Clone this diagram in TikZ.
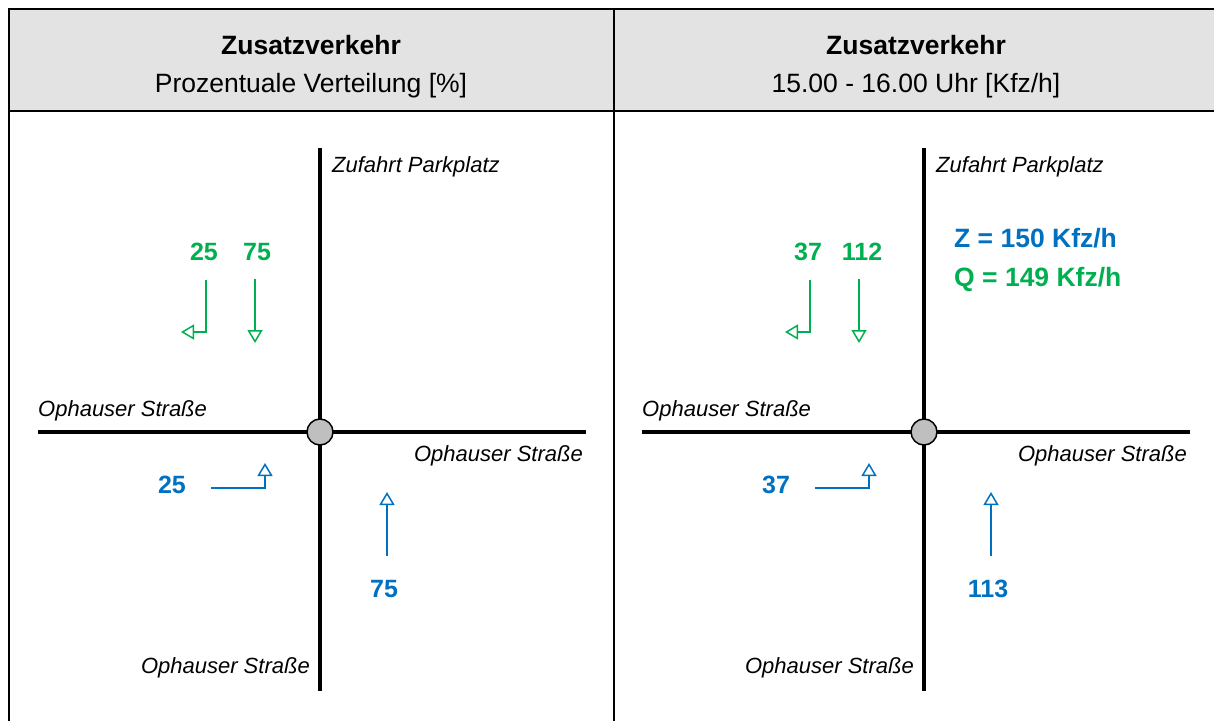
\documentclass[tikz,border=0pt]{standalone}
\usepackage{fontspec}
\setmainfont{Liberation Sans}
\usetikzlibrary{arrows.meta}
\definecolor{hdrgray}{HTML}{E3E3E3}
\definecolor{knotgray}{HTML}{BFBFBF}
\definecolor{flowgreen}{HTML}{00B050}
\definecolor{flowblue}{HTML}{0070C0}
\tikzset{
  frame/.style={line width=2pt, black},
  road/.style={line width=3.5pt, black},
  knot/.style={circle, draw=black, line width=1.5pt, fill=knotgray, minimum size=26pt, inner sep=0pt},
  hdrtitle/.style={font=\fontsize{26.5}{30}\selectfont\bfseries, inner sep=0pt},
  hdrsub/.style={font=\fontsize{26.5}{30}\selectfont, inner sep=0pt},
  streetname/.style={font=\fontsize{22}{26}\selectfont\itshape, inner sep=0pt},
  flownum/.style={font=\fontsize{25}{28}\selectfont\bfseries, inner sep=0pt},
  sumtext/.style={font=\fontsize{26.5}{30}\selectfont\bfseries, inner sep=0pt},
  flowtip/.style={-{Triangle[open, length=13pt, width=15pt]}},
  inflow/.style={line width=1.5pt, flowgreen, flowtip},
  outflow/.style={line width=1.5pt, flowblue, flowtip},
}
\begin{document}
\begin{tikzpicture}[x=1pt, y=-1pt]
\useasboundingbox (0,0) rectangle (1214,720);
\clip (0,0) rectangle (1214,720);

% table frame and header
\fill[hdrgray] (9,9) rectangle (1230,111);
\draw[frame] (1230,9) -- (9,9) -- (9,740);
\draw[frame] (9,111) -- (1230,111);
\draw[frame] (614,9) -- (614,740);

\node[hdrtitle, anchor=base] (tL) at (311,54) {Zusatzverkehr};
\node[hdrsub, anchor=base] (sL) at (311,92) {Prozentuale Verteilung [\%]};
\node[hdrtitle, anchor=base] (tR) at (916,54) {Zusatzverkehr};
\node[hdrsub, anchor=base] (sR) at (916,92) {15.00 - 16.00 Uhr [Kfz/h]};

% ---------- left panel: percentage distribution ----------
\coordinate (nL) at (320,148);
\coordinate (sLr) at (320,691);
\coordinate (wL) at (38,432);
\coordinate (eL) at (586,432);
\draw[road] (nL) -- (sLr);
\draw[road] (wL) -- (eL);
\node[knot] (kL) at (320,432) {};

\node[streetname, anchor=base west] (zpL) at (332,172) {Zufahrt Parkplatz};
\node[streetname, anchor=base west] (owL) at (38,416) {Ophauser Straße};
\node[streetname, anchor=base east] (oeL) at (583,461) {Ophauser Straße};
\node[streetname, anchor=base east] (osL) at (310,673) {Ophauser Straße};

% entering traffic from the car park
\node[flownum, text=flowgreen] (g1L) at (204,252) {25};
\node[flownum, text=flowgreen] (g2L) at (257,252) {75};
\coordinate (g1La) at (206,280);
\coordinate (g1Lb) at (206,332);
\coordinate (g1Lc) at (181,332);
\coordinate (g2La) at (255,279);
\coordinate (g2Lb) at (255,343);
\draw[inflow] (g1La) -- (g1Lb) -- (g1Lc);
\draw[inflow] (g2La) -- (g2Lb);

% leaving traffic towards the car park
\node[flownum, text=flowblue] (b1L) at (172,485) {25};
\node[flownum, text=flowblue] (b2L) at (384,589) {75};
\coordinate (b1La) at (211,488);
\coordinate (b1Lb) at (265,488);
\coordinate (b1Lc) at (265,463);
\coordinate (b2La) at (387,556);
\coordinate (b2Lb) at (387,492);
\draw[outflow] (b1La) -- (b1Lb) -- (b1Lc);
\draw[outflow] (b2La) -- (b2Lb);

% ---------- right panel: 15.00 - 16.00 ----------
\coordinate (nR) at (924,148);
\coordinate (sRr) at (924,691);
\coordinate (wR) at (642,432);
\coordinate (eR) at (1190,432);
\draw[road] (nR) -- (sRr);
\draw[road] (wR) -- (eR);
\node[knot] (kR) at (924,432) {};

\node[streetname, anchor=base west] (zpR) at (936,172) {Zufahrt Parkplatz};
\node[streetname, anchor=base west] (owR) at (642,416) {Ophauser Straße};
\node[streetname, anchor=base east] (oeR) at (1187,461) {Ophauser Straße};
\node[streetname, anchor=base east] (osR) at (914,673) {Ophauser Straße};

\node[sumtext, text=flowblue, anchor=west] (zR) at (954,238) {Z = 150 Kfz/h};
\node[sumtext, text=flowgreen, anchor=west] (qR) at (954,280) {Q = 149 Kfz/h};

\node[flownum, text=flowgreen] (g1R) at (808,252) {37};
\node[flownum, text=flowgreen] (g2R) at (862,252) {112};
\coordinate (g1Ra) at (810,280);
\coordinate (g1Rb) at (810,332);
\coordinate (g1Rc) at (785,332);
\coordinate (g2Ra) at (859,279);
\coordinate (g2Rb) at (859,343);
\draw[inflow] (g1Ra) -- (g1Rb) -- (g1Rc);
\draw[inflow] (g2Ra) -- (g2Rb);

\node[flownum, text=flowblue] (b1R) at (776,485) {37};
\node[flownum, text=flowblue] (b2R) at (988,589) {113};
\coordinate (b1Ra) at (815,488);
\coordinate (b1Rb) at (869,488);
\coordinate (b1Rc) at (869,463);
\coordinate (b2Ra) at (991,556);
\coordinate (b2Rb) at (991,492);
\draw[outflow] (b1Ra) -- (b1Rb) -- (b1Rc);
\draw[outflow] (b2Ra) -- (b2Rb);
\end{tikzpicture}
\end{document}
